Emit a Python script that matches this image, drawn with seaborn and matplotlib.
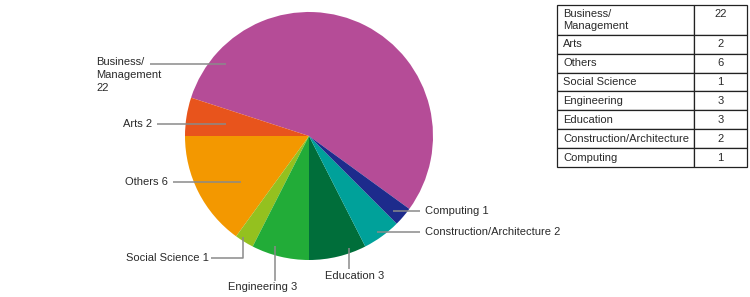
import matplotlib
matplotlib.use("Agg")
import matplotlib.pyplot as plt
import seaborn as sns

categories = ["Business/\nManagement", "Arts", "Others", "Social Science",
              "Engineering", "Education", "Construction/Architecture", "Computing"]
values = [22, 2, 6, 1, 3, 3, 2, 1]
pie_labels = ["Business/\nManagement\n22", "Arts 2", "Others 6", "Social Science 1",
              "Engineering 3", "Education 3", "Construction/Architecture 2", "Computing 1"]
colors = ["#B54C97", "#E8541C", "#F39800", "#94C11F",
          "#22AC38", "#006E3A", "#00A19A", "#1D2B8C"]

sns.set_theme(style="white")
plt.rcParams["font.family"] = ["Liberation Sans", "DejaVu Sans"]
palette = sns.color_palette(colors)

W, H = 750, 297
fig = plt.figure(figsize=(W / 100, H / 100), dpi=100)
ax = fig.add_axes([0, 0, 1, 1])

def py(y):
    return H - y

ax.pie(values, colors=palette, startangle=-36, counterclock=True,
       center=(309, py(136)), radius=124,
       wedgeprops=dict(linewidth=0, antialiased=True))
ax.set_xlim(0, W)
ax.set_ylim(0, H)
ax.set_aspect("auto")
ax.axis("off")

fs = 8.0
tc = "#2a2a2a"
lc = "#8a8a8a"
lw = 1.1

# leader lines (pixel coords) and label placements
leaders = [
    [(150, 64), (226, 64)],
    [(157, 124), (226, 124)],
    [(173, 182), (241, 182)],
    [(211, 258), (243, 258), (243, 237)],
    [(275, 281), (275, 246)],
    [(349, 269), (349, 248)],
    [(377, 232), (420, 232)],
    [(393, 211), (420, 211)],
]
label_pos = [
    (96, 57, "left", "top"),
    (152, 124, "right", "center"),
    (168, 182, "right", "center"),
    (209, 258, "right", "center"),
    (263, 287, "center", "center"),
    (355, 276, "center", "center"),
    (425, 232, "left", "center"),
    (425, 211, "left", "center"),
]
for pts, (x, y, ha, va), lab in zip(leaders, label_pos, pie_labels):
    ax.plot([p[0] for p in pts], [py(p[1]) for p in pts], color=lc, lw=lw,
            solid_capstyle="butt")
    ax.text(x, py(y), lab, ha=ha, va=va, fontsize=fs, color=tc, linespacing=1.4)

# table
cell_text = [[c, str(v) + ("\n" if "\n" in c else "")] for c, v in zip(categories, values)]
x0, y0, x1, y1 = 557, 5, 747, 167
tbl = ax.table(cellText=cell_text, colWidths=[137, 53], cellLoc="left",
               bbox=[x0 / W, py(y1) / H, (x1 - x0) / W, (y1 - y0) / H])
tbl.auto_set_font_size(False)
tbl.set_fontsize(fs)
for (r, c), cell in tbl.get_celld().items():
    cell.set_edgecolor("#222222")
    cell.set_linewidth(0.9)
    cell.set_height(2.0 if r == 0 else 1.27)
    cell.get_text().set_color(tc)
    cell.PAD = 0.045
    if c == 1:
        cell.get_text().set_horizontalalignment("center")
        cell._loc = "center"
    cell.get_text().set_linespacing(1.2)

fig.savefig("out.png", dpi=100)
